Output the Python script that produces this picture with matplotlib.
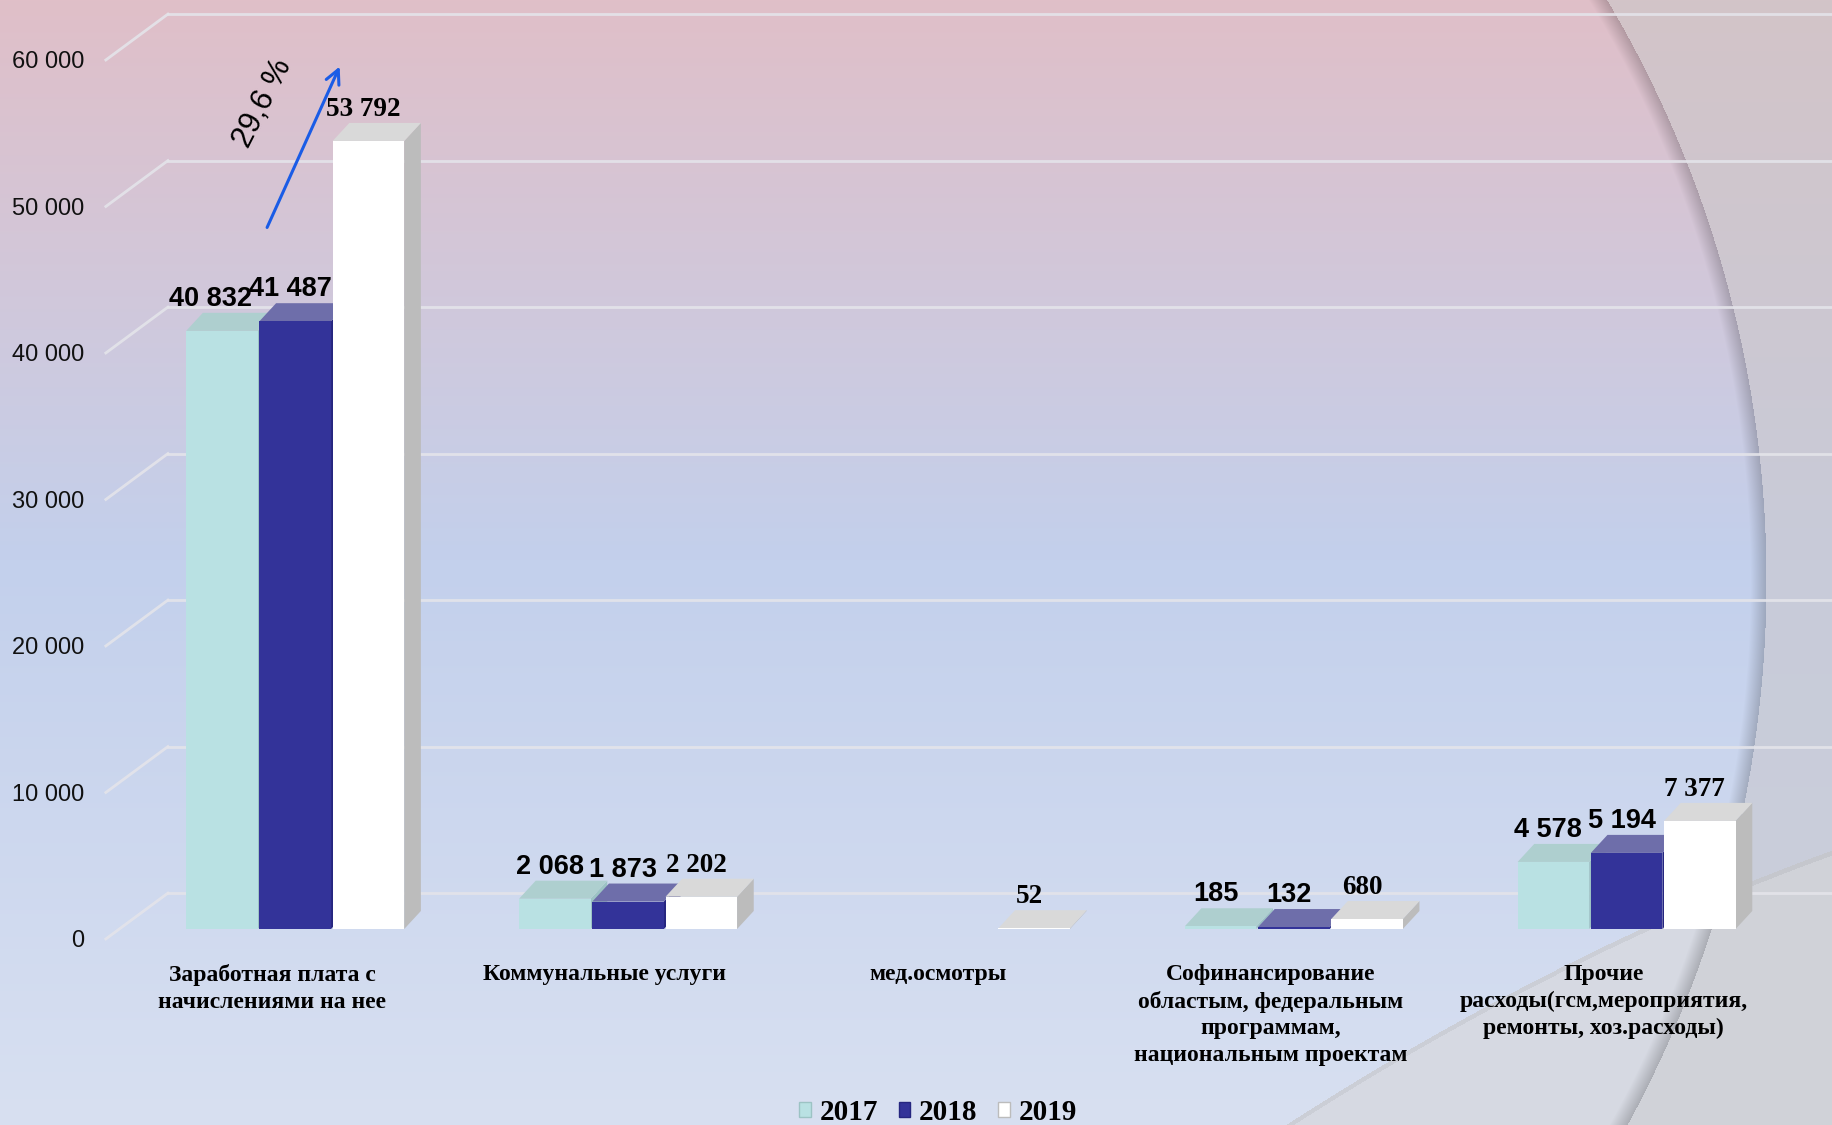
import matplotlib
matplotlib.use("Agg")
import matplotlib.pyplot as plt
from matplotlib.patches import Polygon, Patch
import numpy as np

# данные
categories = ['Заработная плата с\nначислениями на нее',
              'Коммунальные услуги',
              'мед.осмотры',
              'Софинансирование\nобластым, федеральным\nпрограммам,\nнациональным проектам',
              'Прочие\nрасходы(гсм,мероприятия,\nремонты, хоз.расходы)']
years = ['2017', '2018', '2019']
v2017 = [40832, 2068, None, 185, 4578]
v2018 = [41487, 1873, None, 132, 5194]
v2019 = [53792, 2202, 52, 680, 7377]
y_ticks = [0, 10000, 20000, 30000, 40000, 50000, 60000]
growth_label = '29,6 %'

series = [v2017, v2018, v2019]
front_c = ['#b9e1e3', '#333399', '#ffffff']
top_c = ['#aecfcf', '#6e6eaa', '#d9d9d9']
side_c = ['#9cc3c4', '#262680', '#bcbcbc']
label_font = ['Liberation Sans', 'Liberation Sans', 'Liberation Serif']

W, H = 1832, 1125


def grad(ys, cols):
    cols = np.array([matplotlib.colors.to_rgb(c) for c in cols])
    yy = np.arange(H)
    return np.stack([np.interp(yy, ys, cols[:, i]) for i in range(3)], axis=1)


def background():
    yy, xx = np.mgrid[0:H, 0:W]
    inside_g = grad([0, 560, H], ['#e0bfc8', '#c3d0ec', '#d8e0f1'])
    outside_g = grad([0, 560, H], ['#d3c4c8', '#c8cbd9', '#cbd0dc'])
    dist = np.hypot(xx - 629, yy - 580)
    img = np.where((dist < 1137)[..., None], inside_g[:, None, :], outside_g[:, None, :])
    # нижняя светлая полоса справа
    p = np.polyfit([1285, 1571, 1832], [1125, 962, 850], 2)
    curve = np.polyval(p, xx)
    low = yy > curve
    img[low & (dist < 1137)] = matplotlib.colors.to_rgb('#d6d9e2')
    img[low & (dist >= 1137)] = matplotlib.colors.to_rgb('#d0d2d8')
    edge = (yy > curve) & (yy < curve + 5)
    img[edge] *= 0.95
    # тень на краю круга
    band = (dist > 1121) & (dist < 1137)
    f = 1 - 0.2 * (dist - 1121) / 16
    img[band] *= f[band][:, None]
    return img


fig = plt.figure(figsize=(W / 100, H / 100), dpi=100)
bg = fig.add_axes([0, 0, 1, 1])
bg.imshow(background(), aspect='auto', extent=[0, W, H, 0])
bg.axis('off')

ax = fig.add_axes([0, 0, 1, 1])
ax.patch.set_visible(False)
ax.axis('off')
xmin, xmax = -0.817, 4.687
ax.set_xlim(xmin, xmax)
ax.set_ylim(-13379, 63413)

# сетка с "глубиной"
fx, bx = -0.499, -0.3125
for v in y_ticks:
    ax.plot([fx, bx], [v - 680, v + 2450], color='#e4e4ea', lw=2, alpha=0.9, zorder=1)
    ax.plot([bx, xmax], [v + 2450, v + 2450], color='#e4e4ea', lw=2, alpha=0.9, zorder=1)
    ax.text(-0.565, v - 850, f'{v:,}'.replace(',', ' '), ha='right', va='center',
            fontsize=17, family='Liberation Sans', color='#111111')

width = 0.215
step = 0.22
dx, dy = 0.05, 1230
for k, vals in enumerate(series):
    for i, v in enumerate(vals):
        if v is None:
            continue
        xc = i + 0.07 + (k - 1) * step
        x0, x1 = xc - width / 2, xc + width / 2
        side = Polygon([(x1, 0), (x1 + dx, dy), (x1 + dx, v + dy), (x1, v)],
                       closed=True, fc=side_c[k], ec='none', zorder=3)
        top = Polygon([(x0, v), (x1, v), (x1 + dx, v + dy), (x0 + dx, v + dy)],
                      closed=True, fc=top_c[k], ec='none', zorder=3)
        ax.add_patch(side)
        ax.add_patch(top)
        ax.bar(xc, v, width=width, color=front_c[k], zorder=3)
        shift = 0.035 if (k == 0 and v > 30000) else 0.015
        ax.text(xc - shift, v + 1300, f'{v:,}'.replace(',', ' '), ha='center', va='bottom',
                fontsize=19.5, fontweight='bold', family=label_font[k], zorder=5)

for i, cat in enumerate(categories):
    ax.text(i, -2400, cat, ha='center', va='top', fontsize=17, fontweight='bold',
            family='Liberation Serif', linespacing=1.34)

# стрелка роста
ax.annotate('', xy=(0.207, 59044), xytext=(-0.018, 47713),
            arrowprops=dict(arrowstyle='->', color='#1a5ce6', lw=2.2, mutation_scale=25))
ax.text(-0.027, 56382, growth_label, rotation=63, ha='center', va='center',
        fontsize=22, family='Liberation Sans')

handles = [Patch(facecolor=front_c[k], edgecolor=side_c[k]) for k in range(3)]
fig.legend(handles, years, loc='lower center', bbox_to_anchor=(0.512, -0.024), ncol=3,
           frameon=False, prop=dict(family='Liberation Serif', weight='bold', size=21),
           handlelength=0.4, handleheight=0.4, columnspacing=0.7, handletextpad=0.3)

fig.savefig('out.png', dpi=100)
